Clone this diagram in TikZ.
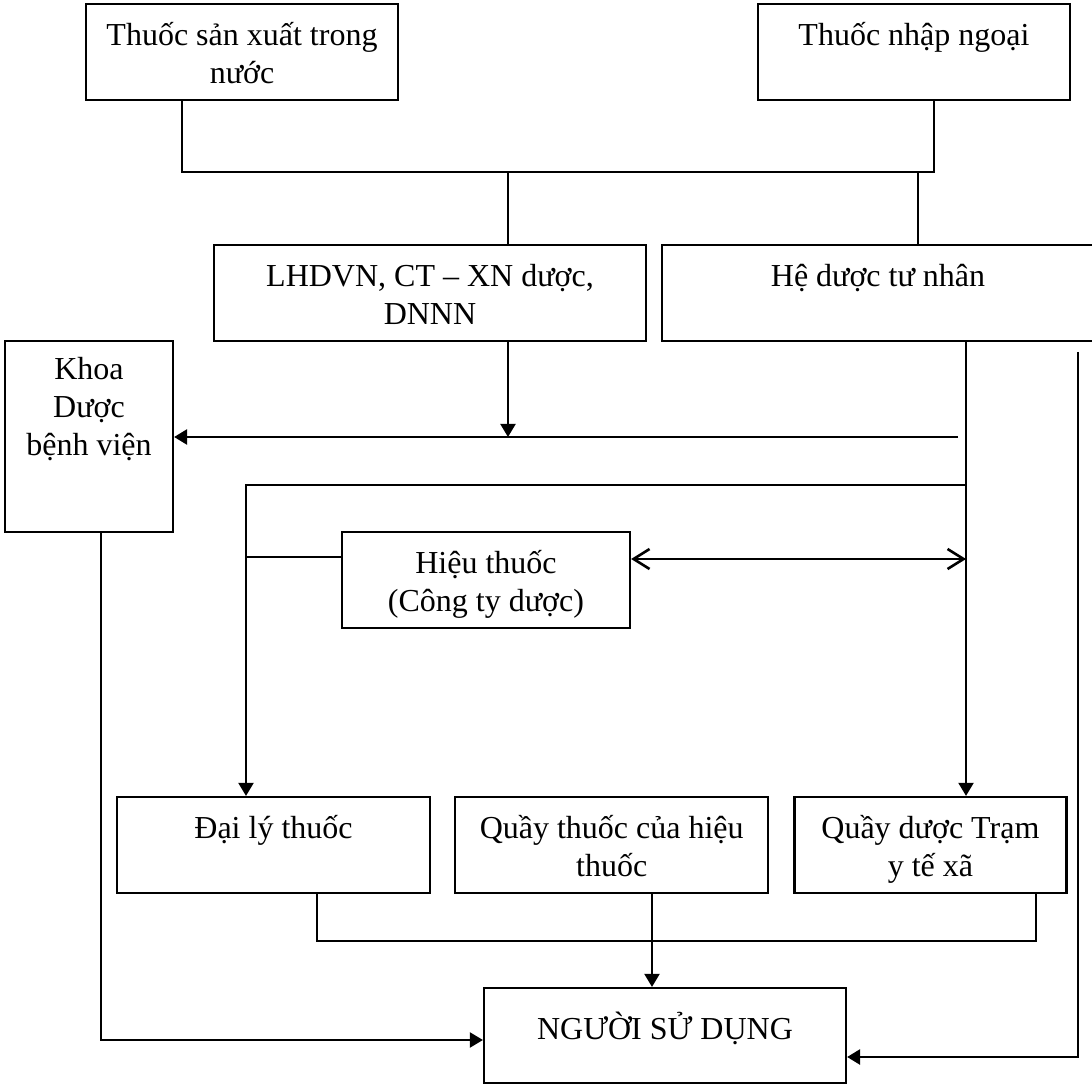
\documentclass[tikz,border=0pt]{standalone}
\usepackage{fontspec}
\setmainfont{Liberation Serif}
\usepackage{tikz}
\usetikzlibrary{positioning, arrows.meta}
\newcommand{\bxstrut}{\rule{0pt}{15.5pt}}

\begin{document}
\begin{tikzpicture}[
        x=0.5pt, y=-0.5pt,
        font=\fontsize{16}{19}\selectfont,
        box/.style={draw, line width=1.1pt, inner sep=0pt, minimum width=#1, minimum height=48pt},
        box/.default=156pt,
        txt/.style={anchor=north, yshift=-5.5pt, inner sep=0pt, align=center},
        ln/.style={line width=1pt},
        arr/.style={-{Triangle[length=6.5pt, width=7.5pt]}, line width=1pt},
        darr/.style={{Straight Barb[length=8pt, width=10pt]}-{Straight Barb[length=8pt, width=10pt]}, line width=1.3pt},
    ]
    \useasboundingbox (0,0) rectangle (1092,1085);

    % ---- Sources (top) ----
    \node[box, label={[txt]north:{\bxstrut Thuốc sản xuất trong\\nước}}] (sx) at (242,52) {};
    \node[box, label={[txt]north:{\bxstrut Thuốc nhập ngoại}}] (nn) at (914,52) {};

    \node[box=216pt, label={[txt]north:{\bxstrut LHDVN, CT – XN dược,\\DNNN}}] (lh) at (430,293) {};
    \node[box=216pt, label={[txt]north:{\bxstrut Hệ dược tư nhân}}] (tn) at (878,293) {};

    % ---- Middle ----
    \node[box=84pt, minimum height=95.5pt, label={[txt, yshift=1.5pt]north:{\bxstrut Khoa\\Dược\\bệnh viện}}] (kd) at (89,436.5) {};
    \node[box=144pt, label={[txt]north:{\bxstrut Hiệu thuốc\\(Công ty dược)}}] (ht) at (486,580) {};

    % ---- Retail (bottom row) ----
    \node[box=156.5pt, label={[txt]north:{\bxstrut Đại lý thuốc}}] (dl) at (273.5,845) {};
    \node[box=156.5pt, right=11.5pt of dl, label={[txt]north:{\bxstrut Quầy thuốc của hiệu\\thuốc}}] (qt) {};
    \node[box=136pt, right=12pt of qt, label={[txt]north:{\bxstrut Quầy dược Trạm\\y tế xã}}] (qd) {};

    \node[box=181pt, minimum height=47.5pt, label={[txt, yshift=-5pt]north:{\bxstrut NGƯỜI SỬ DỤNG}}] (ng) at (665,1035.5) {};

    % ---- Top bus ----
    \coordinate (j1) at (182,172);
    \coordinate (j2) at (934,172);
    \coordinate (j3) at (508,172);
    \coordinate (j4) at (918,172);
    \draw[ln] (sx.south -| j1) -- (j1) -- (j2) -- (nn.south -| j2);
    \draw[ln] (j3) -- (lh.north -| j3);
    \draw[ln] (j4) -- (tn.north -| j4);

    % ---- Distribution ----
    \coordinate (k1) at (508,437);
    \coordinate (k2) at (958,437);
    \draw[arr] (lh.south -| k1) -- (k1);
    \draw[arr, line width=1.3pt] (k2) -- (k2 -| kd.east);

    \coordinate (r1) at (966,485);
    \coordinate (l1) at (246,485);
    \coordinate (l2) at (246,557);
    \coordinate (r2) at (966,559);
    \draw[arr] (tn.south -| r1) -- (qd.north -| r1);
    \draw[arr] (r1) -- (l1) -- (dl.north -| l1);
    \draw[ln] (l2) -- (l2 -| ht.west);
    \draw[darr] (ht.east |- r2) -- (r2);

    % ---- To users ----
    \coordinate (s1) at (1078,352);
    \coordinate (s2) at (1078,1057);
    \coordinate (s3) at (101,1040);
    \draw[arr, line width=1.3pt] (s1) -- (s2) -- (s2 -| ng.east);
    \draw[arr] (kd.south -| s3) -- (s3) -- (s3 -| ng.west);

    \coordinate (b1) at (317,941);
    \coordinate (b2) at (1036,941);
    \coordinate (b3) at (652,941);
    \draw[ln] (dl.south -| b1) -- (b1) -- (b2) -- (qd.south -| b2);
    \draw[arr] (qt.south -| b3) -- (ng.north -| b3);
\end{tikzpicture}
\end{document}
